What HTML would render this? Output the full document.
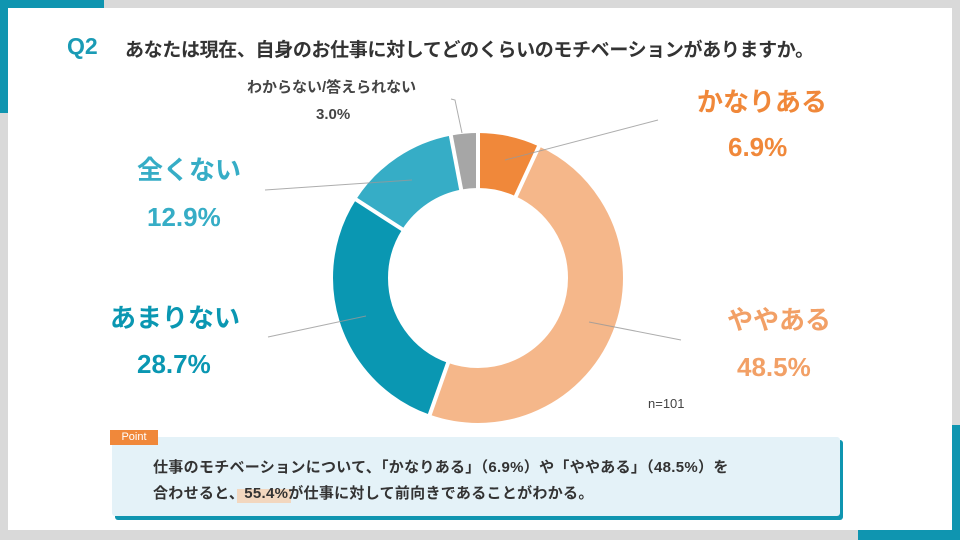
<!DOCTYPE html>
<html><head><meta charset="utf-8"><style>
body{margin:0;width:960px;height:540px;background:#d9d9d9;position:relative;overflow:hidden;font-family:"Liberation Sans","Noto Sans CJK JP",sans-serif}
.slide{position:absolute;left:8px;top:8px;width:944px;height:522px;background:#fff}
.t{position:absolute;font-weight:bold;white-space:nowrap}
</style></head><body>
<div class="slide"></div>
<div style="position:absolute;left:0;top:0;width:104px;height:8px;background:#0f95b0"></div>
<div style="position:absolute;left:0;top:0;width:8px;height:113px;background:#0f95b0"></div>
<div style="position:absolute;left:952px;top:425px;width:8px;height:115px;background:#0f95b0"></div>
<div style="position:absolute;left:858px;top:530px;width:102px;height:10px;background:#0f95b0"></div>
<div class="t" style="left:67px;top:33px;font-size:23px;color:#1a9bb5">Q2</div>
<div class="t" style="left:125px;top:35px;font-size:19px;letter-spacing:-0.35px;color:#333">あなたは現在、自身のお仕事に対してどのくらいのモチベーションがありますか。</div>
<svg style="position:absolute;left:0;top:0" width="960" height="540">
<g transform="translate(478,278) rotate(-90)" fill="none" stroke-width="55">
<circle r="117.5" stroke="#f0883a" stroke-dasharray="50.94 1000"/>
<circle r="117.5" stroke="#f5b78a" stroke-dasharray="0 50.94 358.06 1000"/>
<circle r="117.5" stroke="#0a97b2" stroke-dasharray="0 409 211.9 1000"/>
<circle r="117.5" stroke="#36adc6" stroke-dasharray="0 620.9 95.24 1000"/>
<circle r="117.5" stroke="#a6a6a6" stroke-dasharray="0 716.14 22.15 1000"/>
</g>
<g transform="translate(478,278)" stroke="#fff" stroke-width="4">
<line x1="0" y1="-85" x2="0" y2="-150"/>
<line x1="0" y1="-85" x2="0" y2="-150" transform="rotate(24.84)"/>
<line x1="0" y1="-85" x2="0" y2="-150" transform="rotate(199.44)"/>
<line x1="0" y1="-85" x2="0" y2="-150" transform="rotate(302.76)"/>
<line x1="0" y1="-85" x2="0" y2="-150" transform="rotate(349.2)"/>
</g>
<g stroke="#999" stroke-width="1" fill="none" opacity="0.8">
<polyline points="505,160 658,120"/>
<polyline points="412,180 265,190"/>
<polyline points="462,133 455,100 451,99"/>
<polyline points="589,322 681,340"/>
<polyline points="366,316 268,337"/>
</g>
</svg>
<div class="t" style="left:697px;top:82px;font-size:26px;color:#f0883a">かなりある</div>
<div class="t" style="left:728px;top:132px;font-size:26px;color:#f0883a">6.9%</div>
<div class="t" style="left:727px;top:300px;font-size:26px;color:#f2a066">ややある</div>
<div class="t" style="left:737px;top:352px;font-size:26px;color:#f2a066">48.5%</div>
<div class="t" style="left:137px;top:150px;font-size:26px;color:#36adc6">全くない</div>
<div class="t" style="left:147px;top:202px;font-size:26px;color:#36adc6">12.9%</div>
<div class="t" style="left:110px;top:298px;font-size:26px;color:#0a97b2">あまりない</div>
<div class="t" style="left:137px;top:349px;font-size:26px;color:#0a97b2">28.7%</div>
<div class="t" style="left:247px;top:76px;font-size:15px;color:#444">わからない/答えられない</div>
<div class="t" style="left:316px;top:106px;font-size:15px;color:#444">3.0%</div>
<div style="position:absolute;left:648px;top:396px;font-size:13px;color:#444">n=101</div>
<div style="position:absolute;left:115px;top:440px;width:728px;height:80px;background:#0f95b0;border-radius:3px"></div>
<div style="position:absolute;left:112px;top:437px;width:728px;height:79px;background:#e4f2f8;border-radius:3px"></div>
<div style="position:absolute;left:110px;top:430px;width:48px;height:15px;background:#f0883a;color:#fff;font-size:11px;line-height:15px;text-align:center">Point</div>
<div style="position:absolute;left:237px;top:489px;width:54px;height:14px;background:#f5cfb0;opacity:0.8"></div>
<div class="t" style="left:153px;top:455px;font-size:15px;letter-spacing:0.3px;color:#333;line-height:26px">仕事のモチベーションについて、「かなりある」（6.9%）や「ややある」（48.5%）を<br>合わせると、55.4%が仕事に対して前向きであることがわかる。</div>
</body></html>
